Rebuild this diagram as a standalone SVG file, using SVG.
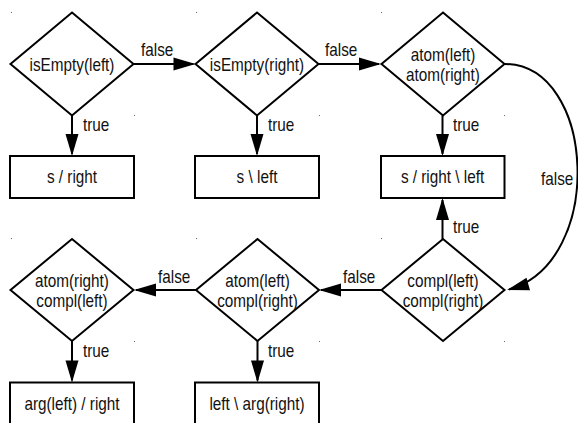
<svg xmlns="http://www.w3.org/2000/svg" width="578" height="423" viewBox="0 0 578 423">
<defs>
<style>
.shape{fill:#fff;stroke:#000;stroke-width:2}
.edge{fill:none;stroke:#000;stroke-width:2}
.t{font-family:"Liberation Sans",Arial,sans-serif;font-size:18px;fill:#111}
.m{text-anchor:middle}
.dot{fill:#666}
</style>
<marker id="ah" markerUnits="userSpaceOnUse" markerWidth="22" markerHeight="13" refX="20" refY="6.5" orient="auto" overflow="visible">
<path d="M0,0 L22,6.5 L0,13 z" fill="#000"/>
</marker>
</defs>
<rect width="578" height="423" fill="#fff"/>
<g id="grid-dots">
<rect class="dot" x="11" y="12" width="1" height="1"/>
<rect class="dot" x="196" y="12" width="1" height="1"/>
<rect class="dot" x="381" y="12" width="1" height="1"/>
<rect class="dot" x="134" y="115" width="1" height="1"/>
<rect class="dot" x="319" y="115" width="1" height="1"/>
<rect class="dot" x="504" y="115" width="1" height="1"/>
<rect class="dot" x="11" y="238" width="1" height="1"/>
<rect class="dot" x="196" y="238" width="1" height="1"/>
<rect class="dot" x="381" y="238" width="1" height="1"/>
<rect class="dot" x="134" y="341" width="1" height="1"/>
<rect class="dot" x="319" y="341" width="1" height="1"/>
<rect class="dot" x="504" y="341" width="1" height="1"/>
</g>
<g id="connectors">
<line class="edge" x1="133.5" y1="64" x2="193.5" y2="64" marker-end="url(#ah)"/>
<line class="edge" x1="318.5" y1="64" x2="379" y2="64" marker-end="url(#ah)"/>
<line class="edge" x1="72" y1="115.5" x2="72" y2="154" marker-end="url(#ah)"/>
<line class="edge" x1="257" y1="115.5" x2="257" y2="154" marker-end="url(#ah)"/>
<line class="edge" x1="442.5" y1="115.5" x2="442.5" y2="154" marker-end="url(#ah)"/>
<path class="edge" d="M504.5,64 C596,64 606,262 509,289.5" marker-end="url(#ah)"/>
<line class="edge" x1="442.5" y1="239" x2="442.5" y2="200" marker-end="url(#ah)"/>
<line class="edge" x1="381.5" y1="290" x2="321" y2="290" marker-end="url(#ah)"/>
<line class="edge" x1="196" y1="290" x2="136" y2="290" marker-end="url(#ah)"/>
<line class="edge" x1="72" y1="341" x2="72" y2="380.5" marker-end="url(#ah)"/>
<line class="edge" x1="257.5" y1="341" x2="257.5" y2="380.5" marker-end="url(#ah)"/>
<text class="t" transform="translate(141,56) scale(0.85,1)">false</text>
<text class="t" transform="translate(325,56) scale(0.85,1)">false</text>
<text class="t" transform="translate(541,185) scale(0.85,1)">false</text>
<text class="t" transform="translate(343,283) scale(0.85,1)">false</text>
<text class="t" transform="translate(158,283) scale(0.85,1)">false</text>
<text class="t" transform="translate(83,131) scale(0.85,1)">true</text>
<text class="t" transform="translate(268,131) scale(0.85,1)">true</text>
<text class="t" transform="translate(453,131) scale(0.85,1)">true</text>
<text class="t" transform="translate(453,233) scale(0.85,1)">true</text>
<text class="t" transform="translate(83,357) scale(0.85,1)">true</text>
<text class="t" transform="translate(268,357) scale(0.85,1)">true</text>
</g>
<g id="d1">
<polygon class="shape" points="72,12.5 133.5,64 72,115.5 10.5,64"/>
<text class="t m" transform="translate(72,71) scale(0.85,1)">isEmpty(left)</text>
</g>
<g id="d2">
<polygon class="shape" points="257,12.5 318.5,64 257,115.5 195.5,64"/>
<text class="t m" transform="translate(257,71) scale(0.85,1)">isEmpty(right)</text>
</g>
<g id="d3">
<polygon class="shape" points="443,12.5 504.5,64 443,115.5 381.5,64"/>
<text class="t m" transform="translate(443,61) scale(0.85,1)">atom(left)</text>
<text class="t m" transform="translate(443,81) scale(0.85,1)">atom(right)</text>
</g>
<g id="b1">
<rect class="shape" x="10" y="156" width="124" height="42"/>
<text class="t m" transform="translate(72,183) scale(0.85,1)">s / right</text>
</g>
<g id="b2">
<rect class="shape" x="195" y="156" width="124" height="42"/>
<text class="t m" transform="translate(257,183) scale(0.85,1)">s \ left</text>
</g>
<g id="b3">
<rect class="shape" x="381" y="156" width="123.5" height="42"/>
<text class="t m" transform="translate(442.5,183) scale(0.85,1)">s / right \ left</text>
</g>
<g id="d6">
<polygon class="shape" points="443,239 504.5,290 443,341 381.5,290"/>
<text class="t m" transform="translate(443,287) scale(0.85,1)">compl(left)</text>
<text class="t m" transform="translate(443,307) scale(0.85,1)">compl(right)</text>
</g>
<g id="d5">
<polygon class="shape" points="257.5,239 319,290 257.5,341 196,290"/>
<text class="t m" transform="translate(257.5,287) scale(0.85,1)">atom(left)</text>
<text class="t m" transform="translate(257.5,307) scale(0.85,1)">compl(right)</text>
</g>
<g id="d4">
<polygon class="shape" points="72,239 133.5,290 72,341 10.5,290"/>
<text class="t m" transform="translate(72,287) scale(0.85,1)">atom(right)</text>
<text class="t m" transform="translate(72,307) scale(0.85,1)">compl(left)</text>
</g>
<g id="b4">
<rect class="shape" x="10" y="382.5" width="124" height="42"/>
<text class="t m" transform="translate(72,409.5) scale(0.85,1)">arg(left) / right</text>
</g>
<g id="b5">
<rect class="shape" x="195" y="382.5" width="124" height="42"/>
<text class="t m" transform="translate(257,409.5) scale(0.85,1)">left \ arg(right)</text>
</g>
</svg>
